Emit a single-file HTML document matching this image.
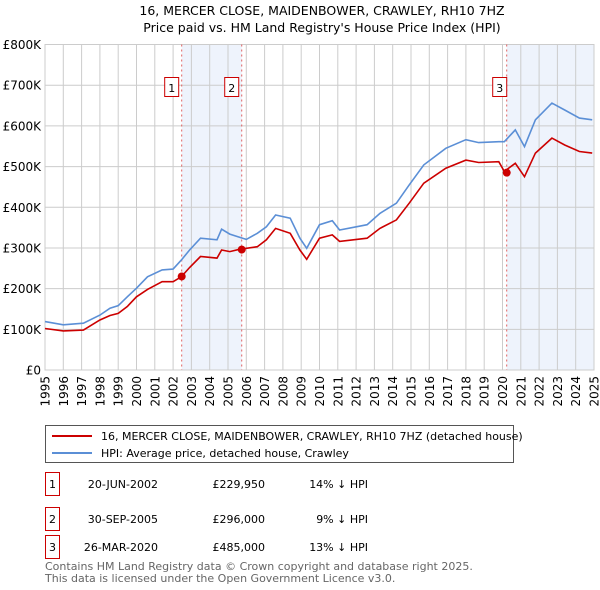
<!DOCTYPE html>
<html><head><meta charset="utf-8"><style>
body{margin:0;background:#fff;font-family:"Liberation Sans","DejaVu Sans",sans-serif;}
svg{display:block}
</style></head><body>
<svg width="600" height="590" xmlns="http://www.w3.org/2000/svg" font-family="DejaVu Sans, Liberation Sans, sans-serif">
<text x="322" y="15" text-anchor="middle" font-size="12.5">16, MERCER CLOSE, MAIDENBOWER, CRAWLEY, RH10 7HZ</text>
<text x="322" y="32" text-anchor="middle" font-size="12.5">Price paid vs. HM Land Registry's House Price Index (HPI)</text>
<g id="plot"></g>
<g>
<rect x="45.5" y="425.5" width="468" height="37" fill="#fff" stroke="#555"/>
<line x1="52" y1="436" x2="92" y2="436" stroke="#cc0000" stroke-width="2"/>
<text x="101" y="440" font-size="11">16, MERCER CLOSE, MAIDENBOWER, CRAWLEY, RH10 7HZ (detached house)</text>
<line x1="52" y1="453" x2="92" y2="453" stroke="#5b8fd6" stroke-width="2"/>
<text x="101" y="457" font-size="11">HPI: Average price, detached house, Crawley</text>
</g>
<g font-size="11">
<g><rect x="45.5" y="472.5" width="14" height="23" fill="#fff" stroke="#c00"/><text x="52.5" y="488" text-anchor="middle">1</text><text x="158" y="488" text-anchor="end">20-JUN-2002</text><text x="265" y="488" text-anchor="end">£229,950</text><text x="368" y="488" text-anchor="end">14% ↓ HPI</text></g>
<g><rect x="45.5" y="507.5" width="14" height="23" fill="#fff" stroke="#c00"/><text x="52.5" y="523" text-anchor="middle">2</text><text x="158" y="523" text-anchor="end">30-SEP-2005</text><text x="265" y="523" text-anchor="end">£296,000</text><text x="368" y="523" text-anchor="end">9% ↓ HPI</text></g>
<g><rect x="45.5" y="535.5" width="14" height="23" fill="#fff" stroke="#c00"/><text x="52.5" y="551" text-anchor="middle">3</text><text x="158" y="551" text-anchor="end">26-MAR-2020</text><text x="265" y="551" text-anchor="end">£485,000</text><text x="368" y="551" text-anchor="end">13% ↓ HPI</text></g>
</g>
<text x="45" y="570" font-size="11" fill="#666">Contains HM Land Registry data © Crown copyright and database right 2025.</text>
<text x="45" y="582" font-size="11" fill="#666">This data is licensed under the Open Government Licence v3.0.</text>
</svg>
<script>
const hpiYears=[1995,1996,1997.1,1998,1998.55,1999,1999.5,2000,2000.6,2001.4,2002,2002.45,2002.9,2003.5,2004.4,2004.65,2005.1,2005.65,2006,2006.6,2007.1,2007.6,2008.4,2008.93,2009.3,2010,2010.7,2011.1,2012.6,2013.3,2014.2,2014.9,2015.7,2016.9,2018,2018.7,2019.8,2020.1,2020.7,2021.2,2021.8,2022.7,2023.4,2024.2,2024.9];
const hpiValues=[119,111,115,135,152,158,180,201,229,246,248,270,295,324,320,346,334,326,321,336,352,381,373,324,299,357,367,344,357,385,410,455,504,545,566,559,561,561,590,549,615,656,639,619,615];
const priceValues=[102,96,98,123,134,139,156,180,198,217,217,229,252,279,275,295,291,297,299,303,320,348,336,295,272,324,332,316,324,348,369,410,459,496,516,510,512,488,508,475,533,570,553,537,533];
const saleYears=[2002.47,2005.75,2020.23];
const saleValues=[229.95,296,485];
const saleLabels=["1","2","3"];
const yTicks=[0,100,200,300,400,500,600,700,800];
const yTickLabels=["£0","£100K","£200K","£300K","£400K","£500K","£600K","£700K","£800K"];
const xTicks=[1995,1996,1997,1998,1999,2000,2001,2002,2003,2004,2005,2006,2007,2008,2009,2010,2011,2012,2013,2014,2015,2016,2017,2018,2019,2020,2021,2022,2023,2024,2025];
const NS="http://www.w3.org/2000/svg";
const X0=45,X1=594,Y0=370,Y1=44.5;
const xs=y=>X0+(y-1995)/30*(X1-X0);
const ys=v=>Y0-v/800*(Y0-Y1);
const g=document.getElementById('plot');
function mk(t,a){const e=document.createElementNS(NS,t);for(const k in a)e.setAttribute(k,a[k]);g.appendChild(e);return e;}
// shading
const sh1=mk('rect',{x:xs(saleYears[0]),y:Y1,width:xs(saleYears[1])-xs(saleYears[0]),height:Y0-Y1,fill:'#eef3fc'});


const sh2=mk('rect',{x:xs(saleYears[2]),y:Y1,width:X1-xs(saleYears[2]),height:Y0-Y1,fill:'#eef3fc'});


yTicks.forEach((v,i)=>{
 const l=mk('line',{x1:X0,x2:X1,y1:ys(v),y2:ys(v),stroke:'#cccccc'});
 
 
 const t=mk('text',{x:X0-4,y:ys(v)+4.5,'text-anchor':'end','font-size':'12'});
 
 
 t.textContent=yTickLabels[i];
});
xTicks.forEach(y=>{
 const l=mk('line',{x1:xs(y),x2:xs(y),y1:Y1,y2:Y0,stroke:'#cccccc'});
 
 
 const t=mk('text',{x:0,y:0,'text-anchor':'end','font-size':'12',transform:`translate(${xs(y)+4.5},${Y0+6}) rotate(-90)`});
 
 
 t.textContent=y;
});
const bd=mk('rect',{x:X0,y:Y1,width:X1-X0,height:Y0-Y1,fill:'none',stroke:'#cccccc'});


saleYears.forEach((y,i)=>{
 const l=mk('line',{x1:xs(y),x2:xs(y),y1:Y1,y2:Y0,stroke:'#e06060','stroke-dasharray':'2,3'});
 
 
});
const path=(ys_)=>hpiYears.map((y,i)=>(i?'L':'M')+xs(y).toFixed(1)+','+ys(ys_[i]).toFixed(1)).join('');
const hp=mk('path',{d:path(hpiValues),fill:'none',stroke:'#5b8fd6','stroke-width':1.6});


const pp=mk('path',{d:path(priceValues),fill:'none',stroke:'#cc0000','stroke-width':1.6});


saleYears.forEach((y,i)=>{
 const c=mk('circle',{cx:xs(y),cy:ys(saleValues[i]),r:4,fill:'#cc0000'});
 
 
 const bx=xs(y)-(i==2?7:10);
 const r=mk('rect',{x:bx-7,y:77.5,width:14,height:19,fill:'#fff',stroke:'#c00'});
 
 
 const t=mk('text',{x:bx,y:92,'text-anchor':'middle','font-size':'11'});
 
 
 t.textContent=saleLabels[i];
});
</script>
</body></html>
